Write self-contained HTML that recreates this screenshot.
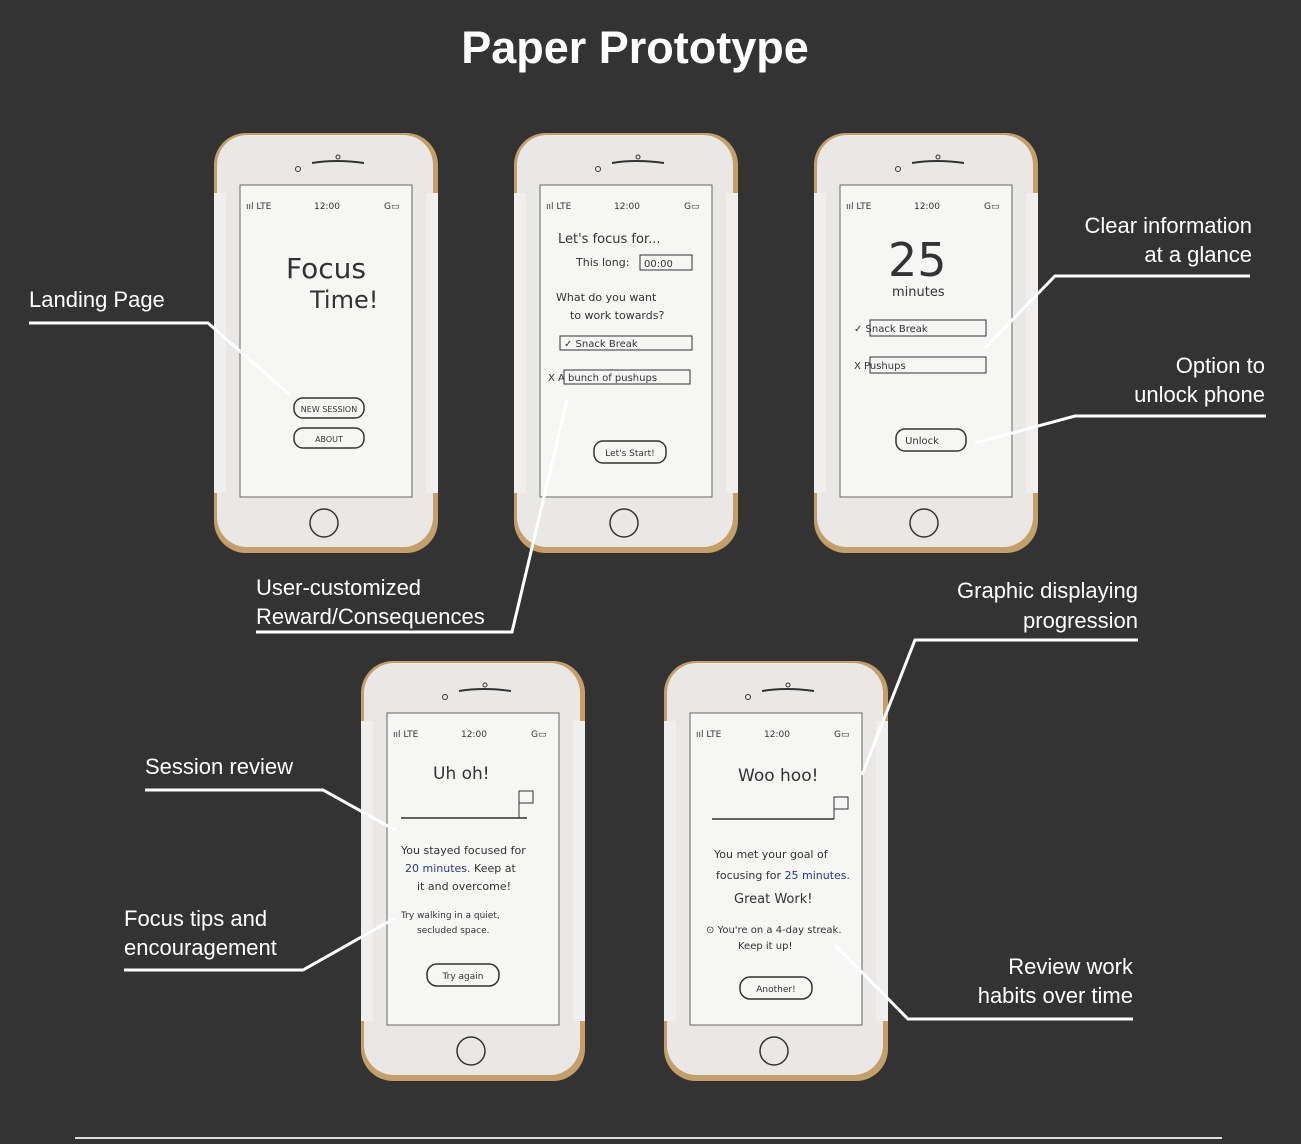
<!DOCTYPE html>
<html><head><meta charset="utf-8"><style>
html,body{margin:0;padding:0;background:#333333;}
svg{display:block}
.lbl{font-family:"Liberation Sans",sans-serif;font-size:22px;fill:#fff}
.hw{font-family:"DejaVu Sans",sans-serif;fill:#333}
</style></head><body>
<svg width="1301" height="1144" viewBox="0 0 1301 1144" xmlns="http://www.w3.org/2000/svg">
<rect width="1301" height="1144" fill="#333333"/>
<defs>
<g id="phone">
<rect x="0" y="0" width="224" height="420" rx="32" fill="#c59f6a"/>
<rect x="3" y="2" width="216" height="412" rx="30" fill="#e9e8e6"/>
<rect x="0" y="60" width="12" height="300" fill="#f0efed"/>
<rect x="212" y="60" width="12" height="300" fill="#f0efed"/>
<rect x="26" y="52" width="172" height="312" fill="#f6f6f5" stroke="#666" stroke-width="1"/>
<circle cx="84" cy="36" r="2.5" fill="none" stroke="#333"/>
<path d="M98 30 Q122 26 150 30" stroke="#333" stroke-width="2" fill="none"/>
<circle cx="124" cy="24" r="2" fill="none" stroke="#333"/>
<circle cx="110" cy="390" r="14" fill="none" stroke="#333" stroke-width="1.5"/>
<text x="32" y="76" class="hw" font-size="9">ııl LTE</text>
<text x="100" y="76" class="hw" font-size="9">12:00</text>
<text x="170" y="76" class="hw" font-size="9">G▭</text>
</g>
</defs>

<text x="635" y="63" text-anchor="middle" font-family="Liberation Sans,sans-serif" font-weight="bold" font-size="45" fill="#fff">Paper Prototype</text>

<g transform="translate(214,133)"><use href="#phone"/>
<text x="72" y="145" class="hw" font-size="28">Focus</text>
<text x="96" y="175" class="hw" font-size="24">Time!</text>
<rect x="80" y="265" width="70" height="20" rx="9" fill="none" stroke="#333" stroke-width="1.5"/>
<text x="115" y="279" text-anchor="middle" class="hw" font-size="8">NEW SESSION</text>
<rect x="80" y="295" width="70" height="20" rx="9" fill="none" stroke="#333" stroke-width="1.5"/>
<text x="115" y="309" text-anchor="middle" class="hw" font-size="8">ABOUT</text>
</g>
<g transform="translate(514,133)"><use href="#phone"/>
<text x="44" y="110" class="hw" font-size="13">Let's focus for...</text>
<text x="62" y="133" class="hw" font-size="11">This long:</text>
<rect x="126" y="122" width="52" height="15" fill="none" stroke="#333"/>
<text x="130" y="134" class="hw" font-size="10">00:00</text>
<text x="42" y="168" class="hw" font-size="11">What do you want</text>
<text x="56" y="186" class="hw" font-size="11">to work towards?</text>
<rect x="46" y="203" width="132" height="14" fill="none" stroke="#333"/>
<text x="50" y="214" class="hw" font-size="10">✓ Snack Break</text>
<rect x="50" y="237" width="126" height="14" fill="none" stroke="#333"/>
<text x="34" y="248" class="hw" font-size="10">X  A bunch of pushups</text>
<rect x="80" y="308" width="72" height="22" rx="9" fill="none" stroke="#333" stroke-width="1.5"/>
<text x="116" y="323" text-anchor="middle" class="hw" font-size="9">Let's Start!</text>
</g>
<g transform="translate(814,133)"><use href="#phone"/>
<text x="74" y="143" class="hw" font-size="46">25</text>
<text x="78" y="163" class="hw" font-size="13">minutes</text>
<rect x="56" y="187" width="116" height="16" fill="none" stroke="#333"/>
<text x="40" y="199" class="hw" font-size="10">✓  Snack Break</text>
<rect x="56" y="224" width="116" height="16" fill="none" stroke="#333"/>
<text x="40" y="236" class="hw" font-size="10">X  Pushups</text>
<rect x="82" y="296" width="70" height="22" rx="9" fill="none" stroke="#333" stroke-width="1.5"/>
<text x="108" y="311" text-anchor="middle" class="hw" font-size="10">Unlock</text>
</g>
<g transform="translate(361,661)"><use href="#phone"/>
<text x="72" y="118" class="hw" font-size="17">Uh oh!</text>
<line x1="40" y1="157" x2="166" y2="157" stroke="#333" stroke-width="1.5"/>
<path d="M158 157 V130 H172 V142 H158" fill="none" stroke="#333"/>
<text x="40" y="193" class="hw" font-size="11">You stayed focused for</text>
<text x="44" y="211" class="hw" font-size="11"><tspan fill="#2a3a7a">20 minutes.</tspan> Keep at</text>
<text x="56" y="229" class="hw" font-size="11">it and overcome!</text>
<text x="40" y="257" class="hw" font-size="9">Try walking in a quiet,</text>
<text x="56" y="272" class="hw" font-size="9">secluded space.</text>
<rect x="66" y="303" width="72" height="22" rx="10" fill="none" stroke="#333" stroke-width="1.5"/>
<text x="102" y="318" text-anchor="middle" class="hw" font-size="9">Try again</text>
</g>
<g transform="translate(664,661)"><use href="#phone"/>
<text x="74" y="120" class="hw" font-size="17">Woo hoo!</text>
<line x1="48" y1="158" x2="170" y2="158" stroke="#333" stroke-width="1.5"/>
<path d="M170 158 V136 H184 V148 H170" fill="none" stroke="#333"/>
<text x="50" y="197" class="hw" font-size="11">You met your goal of</text>
<text x="52" y="218" class="hw" font-size="11">focusing for <tspan fill="#2a3a7a">25 minutes.</tspan></text>
<text x="70" y="242" class="hw" font-size="13">Great Work!</text>
<text x="42" y="272" class="hw" font-size="10">⊙ You're on a 4-day streak.</text>
<text x="74" y="288" class="hw" font-size="10">Keep it up!</text>
<rect x="76" y="316" width="72" height="22" rx="10" fill="none" stroke="#333" stroke-width="1.5"/>
<text x="112" y="331" text-anchor="middle" class="hw" font-size="9">Another!</text>
</g>

<g stroke="#fff" stroke-width="3" fill="none">
<polyline points="29,323 208,323 290,395"/>
<polyline points="256,632 512,632 567,400"/>
<polyline points="1250,276 1055,276 985,348"/>
<polyline points="1266,416 1075,416 975,443"/>
<polyline points="1138,640 915,640 862,775"/>
<polyline points="145,790 323,790 395,830"/>
<polyline points="124,970 303,970 395,918"/>
<polyline points="1133,1019 908,1019 835,945"/>
</g>
<line x1="75" y1="1138" x2="1222" y2="1138" stroke="#ddd" stroke-width="2"/>

<text x="29" y="307" class="lbl">Landing Page</text>
<text x="256" y="595" class="lbl">User-customized</text>
<text x="256" y="624" class="lbl">Reward/Consequences</text>
<text x="1252" y="233" class="lbl" text-anchor="end">Clear information</text>
<text x="1252" y="262" class="lbl" text-anchor="end">at a glance</text>
<text x="1265" y="373" class="lbl" text-anchor="end">Option to</text>
<text x="1265" y="402" class="lbl" text-anchor="end">unlock phone</text>
<text x="1138" y="598" class="lbl" text-anchor="end">Graphic displaying</text>
<text x="1138" y="628" class="lbl" text-anchor="end">progression</text>
<text x="145" y="774" class="lbl">Session review</text>
<text x="124" y="926" class="lbl">Focus tips and</text>
<text x="124" y="955" class="lbl">encouragement</text>
<text x="1133" y="974" class="lbl" text-anchor="end">Review work</text>
<text x="1133" y="1003" class="lbl" text-anchor="end">habits over time</text>
</svg>
</body></html>
